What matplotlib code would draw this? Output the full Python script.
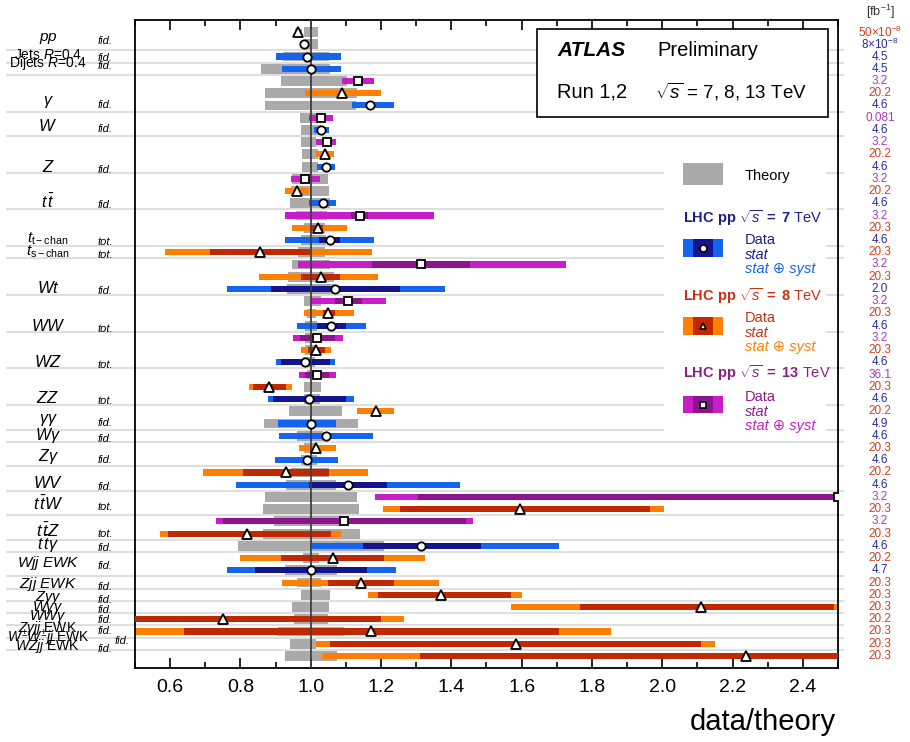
import matplotlib
matplotlib.use('Agg')
import matplotlib.pyplot as plt
import matplotlib.transforms as mtransforms
from matplotlib.patches import Rectangle
from matplotlib.lines import Line2D
import numpy as np

plt.rcParams['font.family'] = ['Liberation Sans', 'DejaVu Sans']
plt.rcParams['mathtext.fontset'] = 'custom'
plt.rcParams['mathtext.rm'] = 'Liberation Sans'
plt.rcParams['mathtext.it'] = 'Liberation Sans:italic'
plt.rcParams['mathtext.bf'] = 'Liberation Sans:bold'

# one entry per measurement, top to bottom
energy = [8, 7, 7, 7, 13, 8, 7, 13, 7, 13, 8, 7, 13, 8, 7, 13, 8, 7, 8, 13,
          8, 7, 13, 8, 7, 13, 8, 7, 13, 8, 7, 8, 7, 7, 8, 7, 8, 7, 13, 8,
          13, 8, 7, 8, 7, 8, 8, 8, 8, 8, 8, 8]
central = [0.965, 0.981, 0.990, 1.000, 1.135, 1.090, 1.169, 1.029, 1.030, 1.045,
           1.040, 1.043, 0.983, 0.961, 1.035, 1.141, 1.021, 1.054, 0.855, 1.313,
           1.028, 1.070, 1.107, 1.050, 1.059, 1.019, 1.016, 0.983, 1.018, 0.881,
           0.994, 1.186, 1.000, 1.043, 1.016, 0.988, 0.930, 1.107, 2.500, 1.594,
           1.095, 0.818, 1.314, 1.062, 1.000, 1.142, 1.371, 2.109, 0.750, 1.171,
           1.583, 2.237]
tot_lo = [0.955, 0.975, 0.902, 0.919, 1.090, 0.983, 1.116, 0.994, 1.009, 1.016,
          1.014, 1.019, 0.943, 0.928, 0.994, 0.928, 0.947, 0.928, 0.585, 0.964,
          0.853, 0.762, 1.002, 0.980, 0.962, 0.950, 0.973, 0.900, 0.966, 0.823,
          0.878, 1.132, 0.907, 0.909, 0.966, 0.897, 0.694, 0.788, 1.183, 1.206,
          0.731, 0.570, 0.997, 0.799, 0.761, 0.919, 1.162, 1.571, 0.300, 0.450,
          1.014, 1.032]
tot_hi = [0.975, 0.987, 1.086, 1.086, 1.180, 1.200, 1.238, 1.062, 1.051, 1.073,
          1.067, 1.070, 1.026, 0.994, 1.073, 1.352, 1.104, 1.180, 1.173, 1.726,
          1.190, 1.381, 1.214, 1.123, 1.156, 1.092, 1.059, 1.070, 1.071, 0.948,
          1.122, 1.238, 1.072, 1.178, 1.071, 1.078, 1.164, 1.426, 3.300, 2.006,
          1.462, 1.085, 1.706, 1.326, 1.242, 1.366, 1.600, 2.520, 1.266, 1.855,
          2.149, 2.800]
stat_lo = [0.962, 0.978, 0.985, 0.995, 1.130, 1.086, 1.164, 1.026, 1.028, 1.042,
           1.037, 1.040, 0.979, 0.957, 1.030, 1.114, 1.002, 1.024, 0.714, 1.175,
           0.971, 0.888, 1.069, 1.035, 1.019, 0.970, 0.992, 0.916, 0.985, 0.835,
           0.892, 1.182, 0.995, 1.038, 1.012, 0.983, 0.807, 0.994, 1.306, 1.254,
           0.751, 0.595, 1.149, 0.916, 0.842, 1.048, 1.190, 1.766, 0.350, 0.638,
           1.054, 1.311]
stat_hi = [0.968, 0.984, 0.995, 1.005, 1.140, 1.094, 1.174, 1.032, 1.032, 1.048,
           1.043, 1.046, 0.987, 0.965, 1.040, 1.164, 1.035, 1.083, 0.997, 1.452,
           1.084, 1.255, 1.145, 1.069, 1.099, 1.070, 1.040, 1.054, 1.051, 0.929,
           1.099, 1.190, 1.005, 1.048, 1.020, 0.993, 1.052, 1.218, 3.100, 1.966,
           1.442, 1.059, 1.483, 1.208, 1.161, 1.237, 1.571, 2.490, 1.200, 1.705,
           2.109, 2.700]
theory_lo = [0.981, 0.985, 0.921, 0.859, 0.916, 0.869, 0.871, 0.970, 0.972, 0.971,
             0.974, 0.974, 0.947, 0.945, 0.940, 0.957, 0.981, 0.971, 0.964, 0.948,
             0.935, 0.932, 0.981, 0.988, 0.985, 0.983, 0.985, 0.978, 0.988, 0.980,
             0.981, 0.938, 0.866, 0.961, 0.981, 0.973, 0.945, 0.929, 0.869, 0.864,
             0.895, 0.864, 0.794, 0.978, 0.926, 0.961, 0.973, 0.948, 0.952, 0.907,
             0.940, 0.926]
theory_hi = [1.021, 1.021, 1.051, 1.054, 1.102, 1.133, 1.130, 1.030, 1.030, 1.016,
             1.021, 1.020, 1.048, 1.051, 1.054, 1.045, 1.040, 1.042, 1.040, 1.054,
             1.066, 1.069, 1.030, 1.016, 1.019, 1.011, 1.013, 1.011, 1.016, 1.028,
             1.026, 1.088, 1.135, 1.035, 1.011, 1.019, 1.052, 1.073, 1.133, 1.137,
             1.093, 1.140, 1.209, 1.024, 1.076, 1.030, 1.056, 1.052, 1.050, 1.094,
             1.014, 1.076]
lumi = [r'50$\times$10$^{-8}$', r'8$\times$10$^{-8}$', '4.5', '4.5', '3.2', '20.2', '4.6',
        '0.081', '4.6', '3.2', '20.2', '4.6', '3.2', '20.2', '4.6', '3.2', '20.3', '4.6',
        '20.3', '3.2', '20.3', '2.0', '3.2', '20.3', '4.6', '3.2', '20.3', '4.6', '36.1',
        '20.3', '4.6', '20.2', '4.9', '4.6', '20.3', '4.6', '20.2', '4.6', '3.2', '20.3',
        '3.2', '20.3', '4.6', '20.2', '4.7', '20.3', '20.3', '20.3', '20.2', '20.3',
        '20.3', '20.3']

# process groups: label, last row of the group, label row, fid/tot
group_names = [r'$pp$', r'Jets $R$=0.4', r'Dijets $R$=0.4', r'$\gamma$', r'$W$', r'$Z$',
               r'$t\,\bar{t}$', r'$t_{\mathrm{t-chan}}$', r'$t_{\mathrm{s-chan}}$', r'$Wt$',
               r'$WW$', r'$WZ$', r'$ZZ$', r'$\gamma\gamma$', r'$W\gamma$', r'$Z\gamma$',
               r'$WV$', r'$t\,\bar{t}W$', r'$t\,\bar{t}Z$', r'$t\,\bar{t}\gamma$',
               r'$Wjj$ $\mathit{EWK}$', r'$Zjj$ $\mathit{EWK}$', r'$Z\gamma\gamma$',
               r'$W\gamma\gamma$', r'$WW\gamma$', r'$Z\gamma jj$ EWK',
               r'$W^{\pm}W^{\pm}jj$ EWK', r'$WZjj$ EWK']
group_last = [1, 2, 3, 6, 8, 11, 14, 17, 18, 21, 24, 27, 30, 32, 33, 35, 37, 39, 41, 42,
              44, 45, 46, 47, 48, 49, 50, 51]
group_label_row = [0.5, 1.85, 2.55, 5.7, 7.7, 11.0, 13.9, 16.9, 18.0, 20.9, 24.0, 27.0,
                   29.9, 31.7, 33.0, 34.7, 36.9, 38.6, 40.8, 41.9, 43.4, 45.1, 46.2,
                   47.0, 47.8, 48.7, 49.5, 50.2]
group_size = [11, 10, 10, 11.5, 12, 12, 11.5, 11, 11, 12, 12, 12, 12, 11.5, 11.5, 11.5,
              12, 12, 12, 11.5, 11, 11, 10.5, 10.5, 10.5, 10, 10, 10]
group_kind = ['fid.', 'fid.', 'fid.', 'fid.', 'fid.', 'fid.', 'fid.', 'tot.', 'tot.', 'fid.',
              'tot.', 'tot.', 'tot.', 'fid.', 'fid.', 'fid.', 'fid.', 'tot.', 'tot.', 'fid.',
              'fid.', 'fid.', 'fid.', 'fid.', 'fid.', 'fid.', 'fid.', 'fid.']

# colours per centre-of-mass energy
col_tot = {7: '#1464f0', 8: '#ff8000', 13: '#c81ec8'}
col_stat = {7: '#14148c', 8: '#c02800', 13: '#8c148c'}
col_text = {7: '#1e1e8c', 8: '#c83214', 13: '#8c1e8c'}
col_lumi = {7: '#2a2aa0', 8: '#d04020', 13: '#a83cb8'}
mark = {7: 'o', 8: '^', 13: 's'}
theory_col = '#aaaaaa'

W, H = 910, 742
fig = plt.figure(figsize=(W / 100, H / 100), dpi=100)
ax = fig.add_axes([135 / W, 1 - 668.2 / H, 703 / W, 648.4 / H])


def fx(px):
    return px / W


def fy(py):
    return 1 - py / H


rows = np.arange(len(central))
en = np.array(energy)

ax.barh(rows, np.array(theory_hi) - np.array(theory_lo), left=theory_lo, height=0.8,
        color=theory_col, zorder=1)
ax.barh(rows, np.array(tot_hi) - np.array(tot_lo), left=tot_lo, height=0.5,
        color=[col_tot[e] for e in energy], zorder=2)
ax.barh(rows, np.array(stat_hi) - np.array(stat_lo), left=stat_lo, height=0.5,
        color=[col_stat[e] for e in energy], zorder=3)
ax.axvline(1.0, color='#404040', lw=1.3, zorder=4)
for e in (7, 8, 13):
    sel = en == e
    ms = 6.5 if e == 8 else 6
    ax.plot(np.array(central)[sel], rows[sel], ls='none', marker=mark[e], ms=ms,
            mfc='white', mec='black', mew=1.3, zorder=5)

ax.set_xlim(0.5, 2.5)
ax.set_ylim(52, -1)
ax.set_yticks([])
ax.set_xticks(np.arange(0.6, 2.41, 0.2))
ax.set_xticks(np.arange(0.5, 2.51, 0.1), minor=True)
ax.set_xticklabels(['%.1f' % v for v in np.arange(0.6, 2.41, 0.2)])
ax.tick_params(axis='x', which='both', direction='in', top=True, bottom=True,
               labelsize=14, pad=8, width=1.2)
ax.tick_params(axis='x', which='major', length=7)
ax.tick_params(axis='x', which='minor', length=4)
for s in ax.spines.values():
    s.set_linewidth(1.3)

# separator lines between processes, running into the label columns
sep_tr = mtransforms.blended_transform_factory(ax.transAxes, ax.transData)
for last in group_last[:-1]:
    ax.add_line(Line2D([(7 - 135) / 703, (843 - 135) / 703], [last + 0.5, last + 0.5],
                       transform=sep_tr, color='#dcdcdc', lw=1.3, clip_on=False, zorder=0))

# process labels and luminosities
lab_tr = mtransforms.blended_transform_factory(fig.transFigure, ax.transData)
for name, yl, kind, fs in zip(group_names, group_label_row, group_kind, group_size):
    ax.text(fx(48), yl, name, transform=lab_tr, ha='center', va='center', fontsize=fs)
    kx = 115 if 'pm' in name else 98
    ax.text(fx(kx), yl + 0.25, kind, transform=lab_tr, ha='left', va='center',
            fontsize=8, style='italic')
for i, (txt, e) in enumerate(zip(lumi, energy)):
    ax.text(fx(880), i, txt, transform=lab_tr, ha='center', va='center',
            fontsize=8.5, color=col_lumi[e])
fig.text(fx(880), fy(12), r'[fb$^{-1}$]', ha='center', va='center', fontsize=9,
         color='#333333')

# ATLAS box
fig.add_artist(Rectangle((fx(537), fy(117)), (828 - 537) / W, (117 - 29) / H,
                         transform=fig.transFigure, facecolor='white', edgecolor='black',
                         lw=1.2, zorder=3))
fig.text(fx(557), fy(51), 'ATLAS', fontsize=15, weight='bold', style='italic',
         va='center', zorder=4)
fig.text(fx(657), fy(51), 'Preliminary', fontsize=14.5, va='center', zorder=4)
fig.text(fx(557), fy(92), 'Run 1,2', fontsize=14.5, va='center', zorder=4)
fig.text(fx(655), fy(92), r'$\sqrt{s}$ = 7, 8, 13 TeV', fontsize=13.5, va='center', zorder=4)

# legend
fig.add_artist(Rectangle((fx(664), fy(437)), (826 - 664) / W, (437 - 145) / H,
                         transform=fig.transFigure, facecolor='white', edgecolor='none',
                         zorder=2))
fig.add_artist(Rectangle((fx(683), fy(185)), 40 / W, 22 / H, transform=fig.transFigure,
                         facecolor=theory_col, edgecolor='none', zorder=3))
fig.text(fx(745), fy(176), 'Theory', fontsize=10.5, va='center', zorder=4)

legend_rows = [(7, 218, 239, 257), (8, 296, 317, 335), (13, 373, 396, 413)]
for e, yh, y0, y1 in legend_rows:
    fig.text(fx(683), fy(yh), r'$\mathbf{LHC\ pp}$ $\sqrt{s}$ $\mathbf{=\ %d}$ TeV' % e,
             fontsize=10.5, color=col_text[e], va='center', zorder=4)
    fig.add_artist(Rectangle((fx(683), fy(y1)), 40 / W, (y1 - y0) / H,
                             transform=fig.transFigure, facecolor=col_tot[e],
                             edgecolor='none', zorder=3))
    fig.add_artist(Rectangle((fx(693), fy(y1)), 20 / W, (y1 - y0) / H,
                             transform=fig.transFigure, facecolor=col_stat[e],
                             edgecolor='none', zorder=3))
    fig.add_artist(Line2D([fx(703)], [fy((y0 + y1) / 2)], transform=fig.transFigure,
                          marker=mark[e], ms=5, mfc='white', mec='black', mew=1.2,
                          ls='none', zorder=4))
    fig.text(fx(745), fy(y0 + 1), 'Data', fontsize=10.5, color=col_text[e],
             va='center', zorder=4)
    fig.text(fx(745), fy(y0 + 16), 'stat', fontsize=10.5, color=col_text[e],
             style='italic', va='center', zorder=4)
    fig.text(fx(745), fy(y0 + 30), 'stat ⊕ syst', fontsize=10.5, color=col_tot[e],
             style='italic', va='center', zorder=4)

fig.text(fx(836), fy(722), 'data/theory', fontsize=21, ha='right', va='center')

fig.savefig('out.png', dpi=100)
